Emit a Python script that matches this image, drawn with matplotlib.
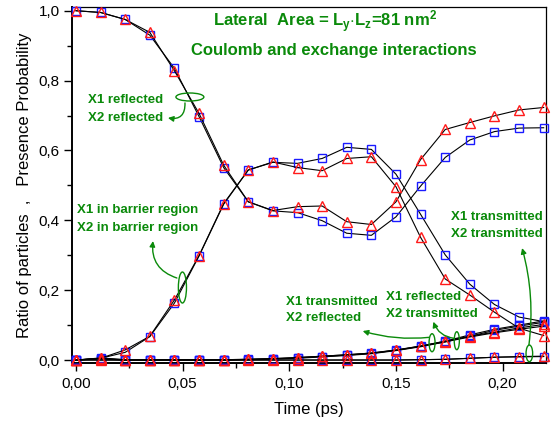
import matplotlib
matplotlib.use("Agg")
import matplotlib.pyplot as plt
from matplotlib.patches import Ellipse, FancyArrowPatch
from matplotlib.ticker import MultipleLocator, FixedLocator

plt.rcParams['font.family'] = ['Liberation Sans', 'DejaVu Sans']
plt.rcParams['mathtext.fontset'] = 'custom'
plt.rcParams['mathtext.rm'] = 'Liberation Sans'
plt.rcParams['mathtext.bf'] = 'Liberation Sans:bold'
plt.rcParams['mathtext.it'] = 'Liberation Sans:italic'

# ---- data ----
time_ps = [0.0, 0.01154, 0.02308, 0.03462, 0.04615, 0.05769, 0.06923, 0.08077,
           0.09231, 0.10385, 0.11538, 0.12692, 0.13846, 0.15, 0.16154, 0.17308,
           0.18462, 0.19615, 0.20769, 0.21923]

refl_sq = [1.0, 0.995, 0.975, 0.930, 0.835, 0.697, 0.551, 0.453, 0.427, 0.422,
           0.399, 0.363, 0.357, 0.410, 0.498, 0.580, 0.630, 0.654, 0.664, 0.665]
refl_tri = [1.0, 0.995, 0.975, 0.938, 0.828, 0.706, 0.558, 0.453, 0.428, 0.439,
            0.441, 0.396, 0.388, 0.453, 0.574, 0.660, 0.680, 0.699, 0.716, 0.723]

barr_sq = [0.0, 0.005, 0.022, 0.067, 0.163, 0.298, 0.446, 0.544, 0.566, 0.563,
           0.577, 0.609, 0.603, 0.532, 0.417, 0.301, 0.217, 0.159, 0.123, 0.110]
barr_tri = [0.0, 0.005, 0.029, 0.068, 0.172, 0.299, 0.448, 0.544, 0.567, 0.551,
            0.542, 0.577, 0.582, 0.496, 0.351, 0.232, 0.186, 0.137, 0.091, 0.070]

tr_rf_sq = [0.0, 0.004, 0.001, 0.001, 0.001, 0.001, 0.001, 0.002, 0.003, 0.006,
            0.010, 0.014, 0.019, 0.028, 0.040, 0.054, 0.072, 0.088, 0.100, 0.112]
tr_rf_tri = [0.0, 0.006, 0.001, 0.001, 0.001, 0.001, 0.001, 0.002, 0.004, 0.007,
             0.011, 0.015, 0.020, 0.029, 0.040, 0.054, 0.068, 0.080, 0.092, 0.102]
rf_tr_sq = [0.0, 0.003, 0.0, 0.0, 0.0, 0.0, 0.0, 0.001, 0.003, 0.005,
            0.009, 0.013, 0.018, 0.027, 0.038, 0.052, 0.068, 0.085, 0.097, 0.108]
rf_tr_tri = [0.0, 0.004, 0.0, 0.0, 0.0, 0.0, 0.0, 0.002, 0.004, 0.007,
             0.011, 0.015, 0.020, 0.028, 0.039, 0.052, 0.066, 0.078, 0.088, 0.097]

tr_tr_sq = [0.0, 0.0, 0.0, 0.0, 0.0, 0.0, 0.0, 0.0, 0.0, 0.0,
            0.0, 0.0, 0.0, 0.0, 0.001, 0.002, 0.005, 0.008, 0.009, 0.010]
tr_tr_tri = [0.0, 0.0, 0.0, 0.0, 0.0, 0.0, 0.0, 0.0, 0.0, 0.0,
             0.0, 0.0, 0.0, 0.0, 0.001, 0.002, 0.005, 0.008, 0.010, 0.011]

x_ticks = [0.00, 0.05, 0.10, 0.15, 0.20]
x_ticklabels = ["0,00", "0,05", "0,10", "0,15", "0,20"]
y_ticks = [0.0, 0.2, 0.4, 0.6, 0.8, 1.0]
y_ticklabels = ["0,0", "0,2", "0,4", "0,6", "0,8", "1,0"]

GREEN = '#0a8a0a'

fig = plt.figure(figsize=(5.51, 4.23), dpi=100)
ax = fig.add_axes([0.1301, 0.1411, 0.8608, 0.8423])

sq_series = [refl_sq, barr_sq, tr_rf_sq, rf_tr_sq, tr_tr_sq]
tri_series = [refl_tri, barr_tri, tr_rf_tri, rf_tr_tri, tr_tr_tri]
for s in sq_series:
    ax.plot(time_ps, s, color='black', lw=0.8, marker='s', ms=5.4,
            mfc='none', mec='#1a1aff', mew=1.0, clip_on=False, zorder=3)
for s in tri_series:
    ax.plot(time_ps, s, color='black', lw=0.8, marker='^', ms=6.6,
            mfc='none', mec='#ff1a1a', mew=1.0, clip_on=False, zorder=4)

ax.set_xlim(-0.0020, 0.2203)
ax.set_ylim(-0.0094, 1.0106)

ax.xaxis.set_major_locator(FixedLocator(x_ticks))
ax.set_xticklabels(x_ticklabels)
ax.xaxis.set_minor_locator(MultipleLocator(0.025))
ax.yaxis.set_major_locator(FixedLocator(y_ticks))
ax.set_yticklabels(y_ticklabels)
ax.yaxis.set_minor_locator(MultipleLocator(0.1))

ax.tick_params(axis='both', which='major', direction='out', length=5.5, width=1.0,
               labelsize=11, top=False, right=False)
ax.tick_params(axis='both', which='minor', direction='out', length=3.5, width=1.0,
               top=False, right=False)
ax.tick_params(axis='x', which='major', pad=4)
ax.tick_params(axis='y', which='major', pad=3)

for side in ['left', 'bottom']:
    ax.spines[side].set_linewidth(1.4)
for side in ['top', 'right']:
    ax.spines[side].set_linewidth(0.9)

ax.set_xlabel("Time (ps)", fontsize=12, labelpad=8)
ax.set_ylabel("Ratio of particles  ,   Presence Probability", fontsize=12, labelpad=5)

# ---- annotations ----
ax.text(0.1165, 0.968, r"Lateral  Area = L$_\mathbf{y}$$\cdot$L$_\mathbf{z}$=81 nm$^\mathbf{2}$",
        color=GREEN, fontsize=12, fontweight='bold', ha='center', va='center')
ax.text(0.1209, 0.8875, "Coulomb and exchange interactions",
        color=GREEN, fontsize=12, fontweight='bold', ha='center', va='center')

lab_kw = dict(color=GREEN, fontsize=9.5, fontweight='bold', ha='left', va='center')
ax.text(0.0056, 0.744, "X1 reflected", **lab_kw)
ax.text(0.0056, 0.693, "X2 reflected", **lab_kw)
ax.text(0.0006, 0.429, "X1 in barrier region", **lab_kw)
ax.text(0.0006, 0.379, "X2 in barrier region", **lab_kw)
ax.text(0.1758, 0.410, "X1 transmitted", **lab_kw)
ax.text(0.1758, 0.360, "X2 transmitted", **lab_kw)
ax.text(0.0984, 0.167, "X1 transmitted", **lab_kw)
ax.text(0.0984, 0.119, "X2 reflected", **lab_kw)
ax.text(0.1453, 0.181, "X1 reflected", **lab_kw)
ax.text(0.1453, 0.132, "X2 transmitted", **lab_kw)

ellipses = [((0.0534, 0.753), 0.0131, 0.0229),
            ((0.0499, 0.2076), 0.0038, 0.0888),
            ((0.2125, 0.0191), 0.0031, 0.0477),
            ((0.1785, 0.0553), 0.0024, 0.0515),
            ((0.1669, 0.0496), 0.0028, 0.0515)]
for c, w, h in ellipses:
    ax.add_patch(Ellipse(c, w, h, fill=False, edgecolor=GREEN, lw=1.0, zorder=5))

arrows = [((0.0511, 0.736), (0.0431, 0.693), -0.6),
          ((0.0473, 0.2348), (0.0361, 0.3407), -0.4),
          ((0.2123, 0.043), (0.2091, 0.3206), 0.1),
          ((0.1773, 0.0621), (0.1675, 0.1097), -0.3),
          ((0.1656, 0.0650), (0.1344, 0.0830), -0.1)]
for a, b, r in arrows:
    ax.add_patch(FancyArrowPatch(a, b, arrowstyle='-|>', mutation_scale=8,
                                 connectionstyle=f'arc3,rad={r}', color=GREEN,
                                 lw=1.0, shrinkA=0, shrinkB=0, zorder=5))

fig.savefig("out.png", dpi=100)
